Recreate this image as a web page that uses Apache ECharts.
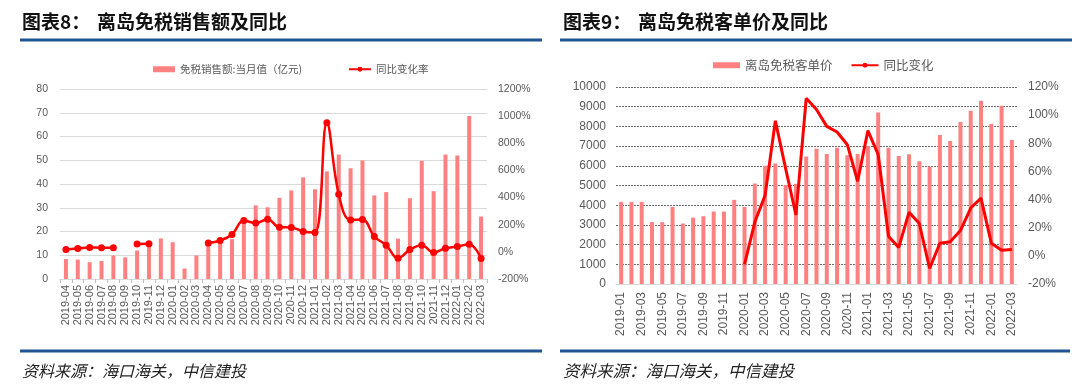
<!DOCTYPE html>
<html>
<head>
<meta charset="utf-8">
<script src="https://cdn.jsdelivr.net/npm/echarts@6/dist/echarts.min.js"></script>
<style>
html,body{margin:0;padding:0;background:#fff;}
#c{width:1080px;height:386px;}
</style>
</head>
<body>
<div id="c"></div>
<script>
// ---------- Chart 8 data ----------
var catsA = ['2019-04','2019-05','2019-06','2019-07','2019-08','2019-09','2019-10','2019-11','2019-12',
  '2020-01','2020-02','2020-03','2020-04','2020-05','2020-06','2020-07','2020-08','2020-09','2020-10','2020-11','2020-12',
  '2021-01','2021-02','2021-03','2021-04','2021-05','2021-06','2021-07','2021-08','2021-09','2021-10','2021-11','2021-12',
  '2022-01','2022-02','2022-03'];
var salesA = [8.4,8.2,7.1,7.6,9.9,9.1,12.0,14.6,17.1,
  15.5,4.4,9.9,15.0,16.3,16.8,25.0,31.0,30.2,34.2,37.3,42.8,
  37.8,45.3,52.4,46.6,49.9,35.2,36.6,17.0,34.0,49.7,37.0,52.4,
  52.0,68.6,26.3];
var yoyA = [17,25,33,30,30,null,57,60,null,
  null,null,null,65,84,128,231,212,241,182,180,150,
  143,952,425,234,239,113,49,-47,17,49,-5,27,
  39,56,-49];
var nameA1 = '免税销售额:当月值（亿元)';
var nameA2 = '同比变化率';

// ---------- Chart 9 data ----------
var catsB = ['2019-01','2019-02','2019-03','2019-04','2019-05','2019-06','2019-07','2019-08','2019-09','2019-10','2019-11','2019-12',
  '2020-01','2020-02','2020-03','2020-04','2020-05','2020-06','2020-07','2020-08','2020-09','2020-10','2020-11','2020-12',
  '2021-01','2021-02','2021-03','2021-04','2021-05','2021-06','2021-07','2021-08','2021-09','2021-10','2021-11','2021-12',
  '2022-01','2022-02','2022-03'];
var priceB = [4170,4170,4170,3140,3140,3910,3070,3370,3440,3680,3680,4270,
  3910,5100,6000,6120,5020,5085,6470,6860,6600,6910,6530,6600,
  7000,8700,6910,6500,6580,6230,5960,7560,7260,8220,8800,9300,
  8120,9050,7310];
var yoyB = [null,null,null,null,null,null,null,null,null,null,null,null,
  -6,24,43,96,62,29,112,104,92,88,79,53,
  89,72,14,6,31,23,-9,9,10,18,34,41,
  9,4,4.5];
var nameB1 = '离岛免税客单价';
var nameB2 = '同比变化';

var FONT = '"Liberation Sans", Arial, "Noto Sans CJK SC", sans-serif';
var CJK = '"Noto Sans CJK SC", sans-serif';
var labelColor = '#595959';
var barColor = '#FF8080';
var lineColor = '#FF0000';
var ruleColor = '#1F5592';
function plain(v) { return String(v); }
function pct(v) { return String(v) + '%'; }

var chart = echarts.init(document.getElementById('c'), null, {renderer: 'canvas'});
chart.setOption({
  animation: false,
  backgroundColor: '#fff',
  grid: [
    {left: 60, top: 89, width: 427, height: 190},
    {left: 616, top: 87, width: 401, height: 197}
  ],
  legend: [
    {
      data: [{name: nameA1, icon: 'rect'}, {name: nameA2}],
      left: 148, top: 59, itemWidth: 22, itemHeight: 6, itemGap: 46,
      textStyle: {fontSize: 10.5, color: labelColor, fontFamily: CJK}
    },
    {
      data: [{name: nameB1, icon: 'rect'}, {name: nameB2}],
      left: 708, top: 54, itemWidth: 27, itemHeight: 6, itemGap: 18,
      textStyle: {fontSize: 12.5, color: labelColor, fontFamily: CJK}
    }
  ],
  xAxis: [
    {
      type: 'category', gridIndex: 0, data: catsA,
      axisLine: {lineStyle: {color: '#D9D9D9'}},
      axisTick: {show: true, length: 4, lineStyle: {color: '#BFBFBF'}},
      axisLabel: {rotate: 90, interval: 0, fontSize: 11, color: labelColor, margin: 6, fontFamily: FONT}
    },
    {
      type: 'category', gridIndex: 1, data: catsB,
      axisLine: {lineStyle: {color: '#D9D9D9'}},
      axisTick: {show: false},
      axisLabel: {rotate: 90, interval: 1, fontSize: 12, color: labelColor, margin: 8, fontFamily: FONT}
    }
  ],
  yAxis: [
    {
      type: 'value', gridIndex: 0, min: 0, max: 80, interval: 10,
      axisLine: {show: false}, axisTick: {show: false},
      splitLine: {lineStyle: {color: '#D9D9D9', width: 1}},
      axisLabel: {fontSize: 10.5, color: labelColor, margin: 12, fontFamily: FONT, formatter: plain}
    },
    {
      type: 'value', gridIndex: 0, position: 'right', min: -200, max: 1200, interval: 200,
      axisLine: {show: false}, axisTick: {show: false}, splitLine: {show: false},
      axisLabel: {fontSize: 10.5, color: labelColor, margin: 11, formatter: pct, fontFamily: FONT}
    },
    {
      type: 'value', gridIndex: 1, min: 0, max: 10000, interval: 1000,
      axisLine: {show: false}, axisTick: {show: false},
      splitLine: {lineStyle: {color: '#6b6b6b', width: 1, type: [2, 1]}},
      axisLabel: {fontSize: 12, color: labelColor, margin: 10, fontFamily: FONT, formatter: plain}
    },
    {
      type: 'value', gridIndex: 1, position: 'right', min: -20, max: 120, interval: 20,
      axisLine: {show: false}, axisTick: {show: false}, splitLine: {show: false},
      axisLabel: {fontSize: 12, color: labelColor, margin: 11, formatter: pct, fontFamily: FONT}
    }
  ],
  series: [
    {
      name: nameA1, type: 'bar', xAxisIndex: 0, yAxisIndex: 0, data: salesA,
      barWidth: 4, itemStyle: {color: barColor}
    },
    {
      name: nameA2, type: 'line', xAxisIndex: 0, yAxisIndex: 1, data: yoyA,
      smooth: 0.4, connectNulls: false, symbol: 'circle', symbolSize: 7,
      lineStyle: {color: lineColor, width: 2.5}, itemStyle: {color: lineColor}
    },
    {
      name: nameB1, type: 'bar', xAxisIndex: 1, yAxisIndex: 2, data: priceB,
      barWidth: 4, itemStyle: {color: barColor}
    },
    {
      name: nameB2, type: 'line', xAxisIndex: 1, yAxisIndex: 3, data: yoyB,
      smooth: false, symbol: 'none',
      lineStyle: {color: lineColor, width: 3}, itemStyle: {color: lineColor}
    }
  ],
  graphic: [
    {type: 'text', x: 22, y: 22, style: {text: '图表8：', font: 'bold 19px ' + CJK, fill: '#111', textVerticalAlign: 'middle'}},
    {type: 'text', x: 97, y: 22, style: {text: '离岛免税销售额及同比', font: 'bold 19px ' + CJK, fill: '#111', textVerticalAlign: 'middle'}},
    {type: 'text', x: 563, y: 22, style: {text: '图表9：', font: 'bold 19px ' + CJK, fill: '#111', textVerticalAlign: 'middle'}},
    {type: 'text', x: 638, y: 22, style: {text: '离岛免税客单价及同比', font: 'bold 19px ' + CJK, fill: '#111', textVerticalAlign: 'middle'}},
    {type: 'line', shape: {x1: 20, y1: 40, x2: 542, y2: 40}, style: {stroke: ruleColor, lineWidth: 3}},
    {type: 'line', shape: {x1: 560, y1: 40, x2: 1072, y2: 40}, style: {stroke: ruleColor, lineWidth: 3}},
    {type: 'line', shape: {x1: 20, y1: 351, x2: 542, y2: 351}, style: {stroke: ruleColor, lineWidth: 3}},
    {type: 'line', shape: {x1: 560, y1: 351, x2: 1070, y2: 351}, style: {stroke: ruleColor, lineWidth: 3}},
    {type: 'text', x: 22, y: 371, style: {text: '资料来源：海口海关，中信建投', font: 'italic 16px ' + CJK, fill: '#222', textVerticalAlign: 'middle'}},
    {type: 'text', x: 563, y: 371, style: {text: '资料来源：海口海关，中信建投', font: 'italic 16.5px ' + CJK, fill: '#222', textVerticalAlign: 'middle'}}
  ]
});
</script>
</body>
</html>
